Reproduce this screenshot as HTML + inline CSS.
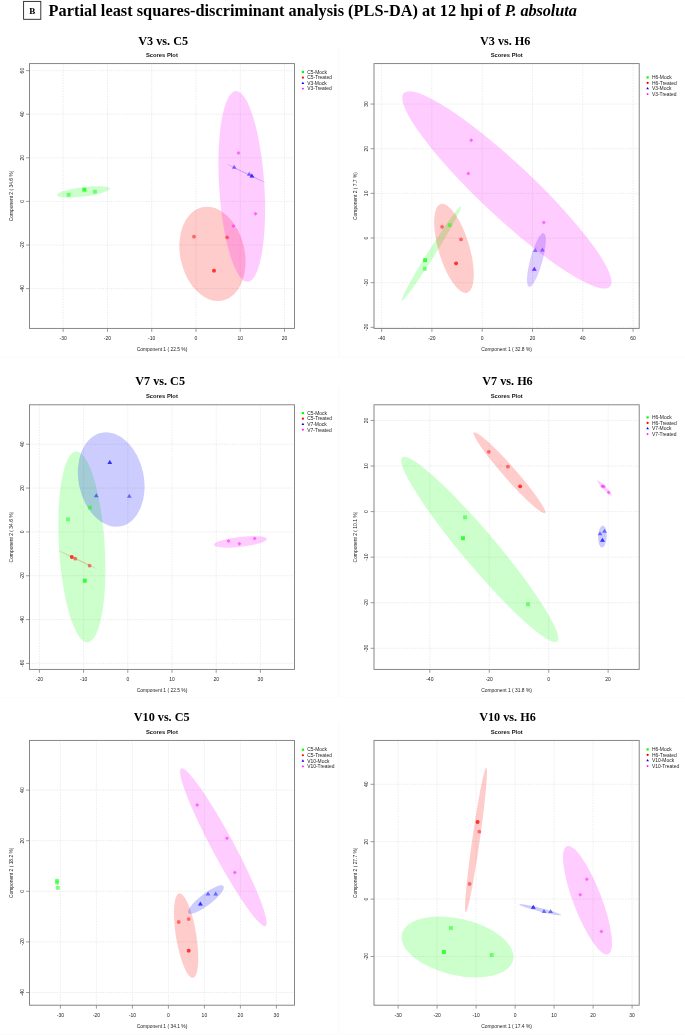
<!DOCTYPE html>
<html><head><meta charset="utf-8"><style>
html,body{margin:0;padding:0;background:#fff;}
body{width:685px;height:1035px;overflow:hidden;font-family:"Liberation Sans", sans-serif;}
svg{display:block;will-change:transform;}
</style></head><body>
<svg width="685" height="1035" viewBox="0 0 685 1035">
<rect width="685" height="1035" fill="#fff"/>
<g fill="#fcfcfc"><rect x="338" y="46" width="2" height="311"/><rect x="338" y="387" width="2" height="311"/><rect x="338" y="723" width="2" height="312"/><rect x="0" y="356.2" width="685" height="1.3"/><rect x="0" y="696.9" width="685" height="1.3"/><rect x="0" y="1033.8" width="685" height="1.2"/></g>
<rect x="23.6" y="1.4" width="17.2" height="17.9" fill="none" stroke="#222" stroke-width="0.9"/>
<text x="32.2" y="13.5" text-anchor="middle" font-family="'Liberation Serif', serif" font-weight="bold" font-size="9" fill="#000">B</text>
<text x="48.6" y="16.0" font-family="'Liberation Serif', serif" font-weight="bold" font-size="16.3" fill="#000"><tspan id="t1" letter-spacing="0.03">Partial least squares-discriminant analysis (PLS-DA) at 12 hpi of </tspan><tspan id="t2" font-style="italic" letter-spacing="-0.1">P. absoluta</tspan></text>
<text x="163.20" y="44.80" text-anchor="middle" font-family="'Liberation Serif', serif" font-weight="bold" font-size="12.2" fill="#000">V3 vs. C5</text>
<text x="161.90" y="57.10" text-anchor="middle" font-family="'Liberation Sans', sans-serif" font-weight="bold" font-size="5.8" fill="#111">Scores Plot</text>
<line x1="63.16" y1="63.60" x2="63.16" y2="328.40" stroke="#ebebeb" stroke-width="0.9" stroke-dasharray="1.6 1.1"/>
<line x1="63.16" y1="328.40" x2="63.16" y2="331.80" stroke="#555" stroke-width="0.6"/>
<text x="63.16" y="339.80" text-anchor="middle" font-family="'Liberation Sans', sans-serif" font-size="5" fill="#222">-30</text>
<line x1="107.44" y1="63.60" x2="107.44" y2="328.40" stroke="#ebebeb" stroke-width="0.9" stroke-dasharray="1.6 1.1"/>
<line x1="107.44" y1="328.40" x2="107.44" y2="331.80" stroke="#555" stroke-width="0.6"/>
<text x="107.44" y="339.80" text-anchor="middle" font-family="'Liberation Sans', sans-serif" font-size="5" fill="#222">-20</text>
<line x1="151.72" y1="63.60" x2="151.72" y2="328.40" stroke="#ebebeb" stroke-width="0.9" stroke-dasharray="1.6 1.1"/>
<line x1="151.72" y1="328.40" x2="151.72" y2="331.80" stroke="#555" stroke-width="0.6"/>
<text x="151.72" y="339.80" text-anchor="middle" font-family="'Liberation Sans', sans-serif" font-size="5" fill="#222">-10</text>
<line x1="196.00" y1="63.60" x2="196.00" y2="328.40" stroke="#ebebeb" stroke-width="0.9" stroke-dasharray="1.6 1.1"/>
<line x1="196.00" y1="328.40" x2="196.00" y2="331.80" stroke="#555" stroke-width="0.6"/>
<text x="196.00" y="339.80" text-anchor="middle" font-family="'Liberation Sans', sans-serif" font-size="5" fill="#222">0</text>
<line x1="240.28" y1="63.60" x2="240.28" y2="328.40" stroke="#ebebeb" stroke-width="0.9" stroke-dasharray="1.6 1.1"/>
<line x1="240.28" y1="328.40" x2="240.28" y2="331.80" stroke="#555" stroke-width="0.6"/>
<text x="240.28" y="339.80" text-anchor="middle" font-family="'Liberation Sans', sans-serif" font-size="5" fill="#222">10</text>
<line x1="284.56" y1="63.60" x2="284.56" y2="328.40" stroke="#ebebeb" stroke-width="0.9" stroke-dasharray="1.6 1.1"/>
<line x1="284.56" y1="328.40" x2="284.56" y2="331.80" stroke="#555" stroke-width="0.6"/>
<text x="284.56" y="339.80" text-anchor="middle" font-family="'Liberation Sans', sans-serif" font-size="5" fill="#222">20</text>
<line x1="29.50" y1="70.60" x2="294.50" y2="70.60" stroke="#ebebeb" stroke-width="0.9" stroke-dasharray="1.6 1.1"/>
<line x1="26.10" y1="70.60" x2="29.50" y2="70.60" stroke="#555" stroke-width="0.6"/>
<text x="0" y="0" transform="translate(23.50 70.60) rotate(-90)" text-anchor="middle" font-family="'Liberation Sans', sans-serif" font-size="5" fill="#222">60</text>
<line x1="29.50" y1="114.20" x2="294.50" y2="114.20" stroke="#ebebeb" stroke-width="0.9" stroke-dasharray="1.6 1.1"/>
<line x1="26.10" y1="114.20" x2="29.50" y2="114.20" stroke="#555" stroke-width="0.6"/>
<text x="0" y="0" transform="translate(23.50 114.20) rotate(-90)" text-anchor="middle" font-family="'Liberation Sans', sans-serif" font-size="5" fill="#222">40</text>
<line x1="29.50" y1="157.80" x2="294.50" y2="157.80" stroke="#ebebeb" stroke-width="0.9" stroke-dasharray="1.6 1.1"/>
<line x1="26.10" y1="157.80" x2="29.50" y2="157.80" stroke="#555" stroke-width="0.6"/>
<text x="0" y="0" transform="translate(23.50 157.80) rotate(-90)" text-anchor="middle" font-family="'Liberation Sans', sans-serif" font-size="5" fill="#222">20</text>
<line x1="29.50" y1="201.40" x2="294.50" y2="201.40" stroke="#ebebeb" stroke-width="0.9" stroke-dasharray="1.6 1.1"/>
<line x1="26.10" y1="201.40" x2="29.50" y2="201.40" stroke="#555" stroke-width="0.6"/>
<text x="0" y="0" transform="translate(23.50 201.40) rotate(-90)" text-anchor="middle" font-family="'Liberation Sans', sans-serif" font-size="5" fill="#222">0</text>
<line x1="29.50" y1="245.00" x2="294.50" y2="245.00" stroke="#ebebeb" stroke-width="0.9" stroke-dasharray="1.6 1.1"/>
<line x1="26.10" y1="245.00" x2="29.50" y2="245.00" stroke="#555" stroke-width="0.6"/>
<text x="0" y="0" transform="translate(23.50 245.00) rotate(-90)" text-anchor="middle" font-family="'Liberation Sans', sans-serif" font-size="5" fill="#222">-20</text>
<line x1="29.50" y1="288.60" x2="294.50" y2="288.60" stroke="#ebebeb" stroke-width="0.9" stroke-dasharray="1.6 1.1"/>
<line x1="26.10" y1="288.60" x2="29.50" y2="288.60" stroke="#555" stroke-width="0.6"/>
<text x="0" y="0" transform="translate(23.50 288.60) rotate(-90)" text-anchor="middle" font-family="'Liberation Sans', sans-serif" font-size="5" fill="#222">-40</text>
<clipPath id="clip0"><rect x="29.5" y="63.6" width="265.0" height="264.79999999999995"/></clipPath>
<g clip-path="url(#clip0)">
<ellipse cx="0" cy="0" rx="26.70" ry="4.68" fill="#00ff00" fill-opacity="0.2" transform="translate(83.30 191.90) rotate(172.89)"/>
<ellipse cx="0" cy="0" rx="47.81" ry="32.27" fill="#ff0000" fill-opacity="0.2" transform="translate(212.45 253.90) rotate(77.55)"/>
<ellipse cx="0" cy="0" rx="95.53" ry="22.61" fill="#ff00ff" fill-opacity="0.2" transform="translate(241.75 186.45) rotate(86.41)"/>
<ellipse cx="0" cy="0" rx="21.80" ry="0.60" fill="#0000ff" fill-opacity="0.2" transform="translate(246.35 173.45) rotate(25.68)"/>
<rect x="66.70" y="192.90" width="3.80" height="3.80" fill="#00ff00" fill-opacity="0.5"/>
<rect x="82.50" y="187.80" width="3.80" height="3.80" fill="#00ff00" fill-opacity="0.5"/>
<rect x="82.50" y="187.80" width="3.80" height="3.80" fill="#00ff00" fill-opacity="0.5"/>
<rect x="93.10" y="189.80" width="3.80" height="3.80" fill="#00ff00" fill-opacity="0.5"/>
<circle cx="194.00" cy="236.70" r="1.90" fill="#ff0000" fill-opacity="0.5"/>
<circle cx="227.10" cy="237.30" r="1.90" fill="#ff0000" fill-opacity="0.5"/>
<circle cx="214.00" cy="270.70" r="1.90" fill="#ff0000" fill-opacity="0.5"/>
<circle cx="214.00" cy="270.70" r="1.90" fill="#ff0000" fill-opacity="0.5"/>
<polygon points="234.20,164.70 236.57,168.70 231.82,168.70" fill="#0000ff" fill-opacity="0.5"/>
<polygon points="249.20,171.80 251.57,175.80 246.82,175.80" fill="#0000ff" fill-opacity="0.5"/>
<polygon points="251.90,173.40 254.28,177.40 249.53,177.40" fill="#0000ff" fill-opacity="0.5"/>
<polygon points="251.90,173.40 254.28,177.40 249.53,177.40" fill="#0000ff" fill-opacity="0.5"/>
<polygon points="238.50,151.00 240.50,153.00 238.50,155.00 236.50,153.00" fill="#ff00ff" fill-opacity="0.5"/>
<polygon points="255.50,211.70 257.50,213.70 255.50,215.70 253.50,213.70" fill="#ff00ff" fill-opacity="0.5"/>
<polygon points="233.40,224.00 235.40,226.00 233.40,228.00 231.40,226.00" fill="#ff00ff" fill-opacity="0.5"/>
</g>
<rect x="29.50" y="63.60" width="265.00" height="264.80" fill="none" stroke="#7a7a7a" stroke-width="0.9"/>
<text x="162.00" y="351.10" text-anchor="middle" font-family="'Liberation Sans', sans-serif" font-size="4.9" fill="#222">Component 1 ( 22.5 %)</text>
<text x="0" y="0" transform="translate(12.70 196.00) rotate(-90)" text-anchor="middle" font-family="'Liberation Sans', sans-serif" font-size="4.9" fill="#222">Component 2 ( 34.6 %)</text>
<rect x="301.80" y="70.90" width="2.20" height="2.20" fill="#00ff00"/>
<text x="307.20" y="73.75" font-family="'Liberation Sans', sans-serif" font-size="4.95" fill="#222">C5-Mock</text>
<circle cx="302.90" cy="77.55" r="1.10" fill="#ff0000"/>
<text x="307.20" y="79.30" font-family="'Liberation Sans', sans-serif" font-size="4.95" fill="#222">C5-Treated</text>
<polygon points="302.90,81.65 304.28,83.97 301.52,83.97" fill="#0000ff"/>
<text x="307.20" y="84.85" font-family="'Liberation Sans', sans-serif" font-size="4.95" fill="#222">V3-Mock</text>
<polygon points="302.90,87.49 304.06,88.65 302.90,89.81 301.74,88.65" fill="#ff00ff"/>
<text x="307.20" y="90.40" font-family="'Liberation Sans', sans-serif" font-size="4.95" fill="#222">V3-Treated</text>
<text x="505.20" y="44.60" text-anchor="middle" font-family="'Liberation Serif', serif" font-weight="bold" font-size="12.2" fill="#000">V3 vs. H6</text>
<text x="506.70" y="56.90" text-anchor="middle" font-family="'Liberation Sans', sans-serif" font-weight="bold" font-size="5.8" fill="#111">Scores Plot</text>
<line x1="381.60" y1="63.60" x2="381.60" y2="328.40" stroke="#ebebeb" stroke-width="0.9" stroke-dasharray="1.6 1.1"/>
<line x1="381.60" y1="328.40" x2="381.60" y2="331.80" stroke="#555" stroke-width="0.6"/>
<text x="381.60" y="339.80" text-anchor="middle" font-family="'Liberation Sans', sans-serif" font-size="5" fill="#222">-40</text>
<line x1="431.90" y1="63.60" x2="431.90" y2="328.40" stroke="#ebebeb" stroke-width="0.9" stroke-dasharray="1.6 1.1"/>
<line x1="431.90" y1="328.40" x2="431.90" y2="331.80" stroke="#555" stroke-width="0.6"/>
<text x="431.90" y="339.80" text-anchor="middle" font-family="'Liberation Sans', sans-serif" font-size="5" fill="#222">-20</text>
<line x1="482.20" y1="63.60" x2="482.20" y2="328.40" stroke="#ebebeb" stroke-width="0.9" stroke-dasharray="1.6 1.1"/>
<line x1="482.20" y1="328.40" x2="482.20" y2="331.80" stroke="#555" stroke-width="0.6"/>
<text x="482.20" y="339.80" text-anchor="middle" font-family="'Liberation Sans', sans-serif" font-size="5" fill="#222">0</text>
<line x1="532.50" y1="63.60" x2="532.50" y2="328.40" stroke="#ebebeb" stroke-width="0.9" stroke-dasharray="1.6 1.1"/>
<line x1="532.50" y1="328.40" x2="532.50" y2="331.80" stroke="#555" stroke-width="0.6"/>
<text x="532.50" y="339.80" text-anchor="middle" font-family="'Liberation Sans', sans-serif" font-size="5" fill="#222">20</text>
<line x1="582.80" y1="63.60" x2="582.80" y2="328.40" stroke="#ebebeb" stroke-width="0.9" stroke-dasharray="1.6 1.1"/>
<line x1="582.80" y1="328.40" x2="582.80" y2="331.80" stroke="#555" stroke-width="0.6"/>
<text x="582.80" y="339.80" text-anchor="middle" font-family="'Liberation Sans', sans-serif" font-size="5" fill="#222">40</text>
<line x1="633.10" y1="63.60" x2="633.10" y2="328.40" stroke="#ebebeb" stroke-width="0.9" stroke-dasharray="1.6 1.1"/>
<line x1="633.10" y1="328.40" x2="633.10" y2="331.80" stroke="#555" stroke-width="0.6"/>
<text x="633.10" y="339.80" text-anchor="middle" font-family="'Liberation Sans', sans-serif" font-size="5" fill="#222">60</text>
<line x1="374.00" y1="104.05" x2="639.20" y2="104.05" stroke="#ebebeb" stroke-width="0.9" stroke-dasharray="1.6 1.1"/>
<line x1="370.60" y1="104.05" x2="374.00" y2="104.05" stroke="#555" stroke-width="0.6"/>
<text x="0" y="0" transform="translate(368.00 104.05) rotate(-90)" text-anchor="middle" font-family="'Liberation Sans', sans-serif" font-size="5" fill="#222">30</text>
<line x1="374.00" y1="148.70" x2="639.20" y2="148.70" stroke="#ebebeb" stroke-width="0.9" stroke-dasharray="1.6 1.1"/>
<line x1="370.60" y1="148.70" x2="374.00" y2="148.70" stroke="#555" stroke-width="0.6"/>
<text x="0" y="0" transform="translate(368.00 148.70) rotate(-90)" text-anchor="middle" font-family="'Liberation Sans', sans-serif" font-size="5" fill="#222">20</text>
<line x1="374.00" y1="193.35" x2="639.20" y2="193.35" stroke="#ebebeb" stroke-width="0.9" stroke-dasharray="1.6 1.1"/>
<line x1="370.60" y1="193.35" x2="374.00" y2="193.35" stroke="#555" stroke-width="0.6"/>
<text x="0" y="0" transform="translate(368.00 193.35) rotate(-90)" text-anchor="middle" font-family="'Liberation Sans', sans-serif" font-size="5" fill="#222">10</text>
<line x1="374.00" y1="238.00" x2="639.20" y2="238.00" stroke="#ebebeb" stroke-width="0.9" stroke-dasharray="1.6 1.1"/>
<line x1="370.60" y1="238.00" x2="374.00" y2="238.00" stroke="#555" stroke-width="0.6"/>
<text x="0" y="0" transform="translate(368.00 238.00) rotate(-90)" text-anchor="middle" font-family="'Liberation Sans', sans-serif" font-size="5" fill="#222">0</text>
<line x1="374.00" y1="282.65" x2="639.20" y2="282.65" stroke="#ebebeb" stroke-width="0.9" stroke-dasharray="1.6 1.1"/>
<line x1="370.60" y1="282.65" x2="374.00" y2="282.65" stroke="#555" stroke-width="0.6"/>
<text x="0" y="0" transform="translate(368.00 282.65) rotate(-90)" text-anchor="middle" font-family="'Liberation Sans', sans-serif" font-size="5" fill="#222">-10</text>
<line x1="374.00" y1="327.30" x2="639.20" y2="327.30" stroke="#ebebeb" stroke-width="0.9" stroke-dasharray="1.6 1.1"/>
<line x1="370.60" y1="327.30" x2="374.00" y2="327.30" stroke="#555" stroke-width="0.6"/>
<text x="0" y="0" transform="translate(368.00 327.30) rotate(-90)" text-anchor="middle" font-family="'Liberation Sans', sans-serif" font-size="5" fill="#222">-20</text>
<clipPath id="clip1"><rect x="374.0" y="63.6" width="265.20000000000005" height="264.79999999999995"/></clipPath>
<g clip-path="url(#clip1)">
<ellipse cx="0" cy="0" rx="141.40" ry="26.45" fill="#ff00ff" fill-opacity="0.2" transform="translate(506.85 189.90) rotate(43.20)"/>
<ellipse cx="0" cy="0" rx="55.67" ry="3.60" fill="#00ff00" fill-opacity="0.2" transform="translate(431.40 253.55) rotate(-57.88)"/>
<ellipse cx="0" cy="0" rx="46.26" ry="15.44" fill="#ff0000" fill-opacity="0.2" transform="translate(453.95 248.35) rotate(73.38)"/>
<ellipse cx="0" cy="0" rx="27.83" ry="6.12" fill="#5000ff" fill-opacity="0.2" transform="translate(536.40 260.00) rotate(105.24)"/>
<rect x="423.20" y="258.30" width="3.80" height="3.80" fill="#00ff00" fill-opacity="0.5"/>
<rect x="423.20" y="258.30" width="3.80" height="3.80" fill="#00ff00" fill-opacity="0.5"/>
<rect x="422.90" y="266.90" width="3.80" height="3.80" fill="#00ff00" fill-opacity="0.5"/>
<rect x="447.80" y="223.20" width="3.80" height="3.80" fill="#00ff00" fill-opacity="0.5"/>
<circle cx="442.10" cy="226.80" r="1.90" fill="#ff0000" fill-opacity="0.5"/>
<circle cx="461.00" cy="239.40" r="1.90" fill="#ff0000" fill-opacity="0.5"/>
<circle cx="456.10" cy="263.30" r="1.90" fill="#ff0000" fill-opacity="0.5"/>
<circle cx="456.10" cy="263.30" r="1.90" fill="#ff0000" fill-opacity="0.5"/>
<polygon points="535.30,247.90 537.67,251.90 532.92,251.90" fill="#5000ff" fill-opacity="0.5"/>
<polygon points="542.40,247.50 544.77,251.50 540.02,251.50" fill="#5000ff" fill-opacity="0.5"/>
<polygon points="534.30,266.80 536.67,270.80 531.92,270.80" fill="#5000ff" fill-opacity="0.5"/>
<polygon points="534.30,266.80 536.67,270.80 531.92,270.80" fill="#5000ff" fill-opacity="0.5"/>
<polygon points="471.20,138.20 473.20,140.20 471.20,142.20 469.20,140.20" fill="#ff00ff" fill-opacity="0.5"/>
<polygon points="468.30,171.40 470.30,173.40 468.30,175.40 466.30,173.40" fill="#ff00ff" fill-opacity="0.5"/>
<polygon points="543.80,220.60 545.80,222.60 543.80,224.60 541.80,222.60" fill="#ff00ff" fill-opacity="0.5"/>
</g>
<rect x="374.00" y="63.60" width="265.20" height="264.80" fill="none" stroke="#7a7a7a" stroke-width="0.9"/>
<text x="506.60" y="351.10" text-anchor="middle" font-family="'Liberation Sans', sans-serif" font-size="4.9" fill="#222">Component 1 ( 32.8 %)</text>
<text x="0" y="0" transform="translate(357.20 196.00) rotate(-90)" text-anchor="middle" font-family="'Liberation Sans', sans-serif" font-size="4.9" fill="#222">Component 2 ( 7.7 %)</text>
<rect x="646.50" y="76.30" width="2.20" height="2.20" fill="#00ff00"/>
<text x="651.90" y="79.15" font-family="'Liberation Sans', sans-serif" font-size="4.95" fill="#222">H6-Mock</text>
<circle cx="647.60" cy="82.95" r="1.10" fill="#ff0000"/>
<text x="651.90" y="84.70" font-family="'Liberation Sans', sans-serif" font-size="4.95" fill="#222">H6-Treated</text>
<polygon points="647.60,87.05 648.98,89.37 646.22,89.37" fill="#0000ff"/>
<text x="651.90" y="90.25" font-family="'Liberation Sans', sans-serif" font-size="4.95" fill="#222">V3-Mock</text>
<polygon points="647.60,92.89 648.76,94.05 647.60,95.21 646.44,94.05" fill="#ff00ff"/>
<text x="651.90" y="95.80" font-family="'Liberation Sans', sans-serif" font-size="4.95" fill="#222">V3-Treated</text>
<text x="160.10" y="384.60" text-anchor="middle" font-family="'Liberation Serif', serif" font-weight="bold" font-size="12.2" fill="#000">V7 vs. C5</text>
<text x="161.90" y="398.20" text-anchor="middle" font-family="'Liberation Sans', sans-serif" font-weight="bold" font-size="5.8" fill="#111">Scores Plot</text>
<line x1="39.40" y1="404.80" x2="39.40" y2="669.40" stroke="#ebebeb" stroke-width="0.9" stroke-dasharray="1.6 1.1"/>
<line x1="39.40" y1="669.40" x2="39.40" y2="672.80" stroke="#555" stroke-width="0.6"/>
<text x="39.40" y="680.80" text-anchor="middle" font-family="'Liberation Sans', sans-serif" font-size="5" fill="#222">-20</text>
<line x1="83.60" y1="404.80" x2="83.60" y2="669.40" stroke="#ebebeb" stroke-width="0.9" stroke-dasharray="1.6 1.1"/>
<line x1="83.60" y1="669.40" x2="83.60" y2="672.80" stroke="#555" stroke-width="0.6"/>
<text x="83.60" y="680.80" text-anchor="middle" font-family="'Liberation Sans', sans-serif" font-size="5" fill="#222">-10</text>
<line x1="127.80" y1="404.80" x2="127.80" y2="669.40" stroke="#ebebeb" stroke-width="0.9" stroke-dasharray="1.6 1.1"/>
<line x1="127.80" y1="669.40" x2="127.80" y2="672.80" stroke="#555" stroke-width="0.6"/>
<text x="127.80" y="680.80" text-anchor="middle" font-family="'Liberation Sans', sans-serif" font-size="5" fill="#222">0</text>
<line x1="172.00" y1="404.80" x2="172.00" y2="669.40" stroke="#ebebeb" stroke-width="0.9" stroke-dasharray="1.6 1.1"/>
<line x1="172.00" y1="669.40" x2="172.00" y2="672.80" stroke="#555" stroke-width="0.6"/>
<text x="172.00" y="680.80" text-anchor="middle" font-family="'Liberation Sans', sans-serif" font-size="5" fill="#222">10</text>
<line x1="216.20" y1="404.80" x2="216.20" y2="669.40" stroke="#ebebeb" stroke-width="0.9" stroke-dasharray="1.6 1.1"/>
<line x1="216.20" y1="669.40" x2="216.20" y2="672.80" stroke="#555" stroke-width="0.6"/>
<text x="216.20" y="680.80" text-anchor="middle" font-family="'Liberation Sans', sans-serif" font-size="5" fill="#222">20</text>
<line x1="260.40" y1="404.80" x2="260.40" y2="669.40" stroke="#ebebeb" stroke-width="0.9" stroke-dasharray="1.6 1.1"/>
<line x1="260.40" y1="669.40" x2="260.40" y2="672.80" stroke="#555" stroke-width="0.6"/>
<text x="260.40" y="680.80" text-anchor="middle" font-family="'Liberation Sans', sans-serif" font-size="5" fill="#222">30</text>
<line x1="29.50" y1="444.22" x2="294.50" y2="444.22" stroke="#ebebeb" stroke-width="0.9" stroke-dasharray="1.6 1.1"/>
<line x1="26.10" y1="444.22" x2="29.50" y2="444.22" stroke="#555" stroke-width="0.6"/>
<text x="0" y="0" transform="translate(23.50 444.22) rotate(-90)" text-anchor="middle" font-family="'Liberation Sans', sans-serif" font-size="5" fill="#222">40</text>
<line x1="29.50" y1="488.06" x2="294.50" y2="488.06" stroke="#ebebeb" stroke-width="0.9" stroke-dasharray="1.6 1.1"/>
<line x1="26.10" y1="488.06" x2="29.50" y2="488.06" stroke="#555" stroke-width="0.6"/>
<text x="0" y="0" transform="translate(23.50 488.06) rotate(-90)" text-anchor="middle" font-family="'Liberation Sans', sans-serif" font-size="5" fill="#222">20</text>
<line x1="29.50" y1="531.90" x2="294.50" y2="531.90" stroke="#ebebeb" stroke-width="0.9" stroke-dasharray="1.6 1.1"/>
<line x1="26.10" y1="531.90" x2="29.50" y2="531.90" stroke="#555" stroke-width="0.6"/>
<text x="0" y="0" transform="translate(23.50 531.90) rotate(-90)" text-anchor="middle" font-family="'Liberation Sans', sans-serif" font-size="5" fill="#222">0</text>
<line x1="29.50" y1="575.74" x2="294.50" y2="575.74" stroke="#ebebeb" stroke-width="0.9" stroke-dasharray="1.6 1.1"/>
<line x1="26.10" y1="575.74" x2="29.50" y2="575.74" stroke="#555" stroke-width="0.6"/>
<text x="0" y="0" transform="translate(23.50 575.74) rotate(-90)" text-anchor="middle" font-family="'Liberation Sans', sans-serif" font-size="5" fill="#222">-20</text>
<line x1="29.50" y1="619.58" x2="294.50" y2="619.58" stroke="#ebebeb" stroke-width="0.9" stroke-dasharray="1.6 1.1"/>
<line x1="26.10" y1="619.58" x2="29.50" y2="619.58" stroke="#555" stroke-width="0.6"/>
<text x="0" y="0" transform="translate(23.50 619.58) rotate(-90)" text-anchor="middle" font-family="'Liberation Sans', sans-serif" font-size="5" fill="#222">-40</text>
<line x1="29.50" y1="663.42" x2="294.50" y2="663.42" stroke="#ebebeb" stroke-width="0.9" stroke-dasharray="1.6 1.1"/>
<line x1="26.10" y1="663.42" x2="29.50" y2="663.42" stroke="#555" stroke-width="0.6"/>
<text x="0" y="0" transform="translate(23.50 663.42) rotate(-90)" text-anchor="middle" font-family="'Liberation Sans', sans-serif" font-size="5" fill="#222">-60</text>
<clipPath id="clip2"><rect x="29.5" y="404.8" width="265.0" height="264.59999999999997"/></clipPath>
<g clip-path="url(#clip2)">
<ellipse cx="0" cy="0" rx="95.61" ry="22.87" fill="#00ff00" fill-opacity="0.2" transform="translate(81.85 546.95) rotate(86.53)"/>
<ellipse cx="0" cy="0" rx="47.77" ry="32.65" fill="#0000ff" fill-opacity="0.2" transform="translate(111.20 479.45) rotate(78.33)"/>
<ellipse cx="0" cy="0" rx="21.31" ry="0.60" fill="#ff0000" fill-opacity="0.2" transform="translate(77.50 559.65) rotate(25.72)"/>
<ellipse cx="0" cy="0" rx="26.66" ry="4.93" fill="#ff00ff" fill-opacity="0.2" transform="translate(240.50 541.95) rotate(173.53)"/>
<rect x="88.10" y="505.70" width="3.80" height="3.80" fill="#00ff00" fill-opacity="0.5"/>
<rect x="66.10" y="517.40" width="3.80" height="3.80" fill="#00ff00" fill-opacity="0.5"/>
<rect x="82.90" y="578.80" width="3.80" height="3.80" fill="#00ff00" fill-opacity="0.5"/>
<rect x="82.90" y="578.80" width="3.80" height="3.80" fill="#00ff00" fill-opacity="0.5"/>
<circle cx="71.70" cy="557.00" r="1.90" fill="#ff0000" fill-opacity="0.5"/>
<circle cx="71.90" cy="557.00" r="1.90" fill="#ff0000" fill-opacity="0.5"/>
<circle cx="75.20" cy="558.70" r="1.90" fill="#ff0000" fill-opacity="0.5"/>
<circle cx="89.60" cy="565.70" r="1.90" fill="#ff0000" fill-opacity="0.5"/>
<polygon points="109.80,459.90 112.17,463.90 107.42,463.90" fill="#0000ff" fill-opacity="0.5"/>
<polygon points="109.80,459.90 112.17,463.90 107.42,463.90" fill="#0000ff" fill-opacity="0.5"/>
<polygon points="96.30,493.20 98.67,497.20 93.92,497.20" fill="#0000ff" fill-opacity="0.5"/>
<polygon points="129.30,493.80 131.68,497.80 126.93,497.80" fill="#0000ff" fill-opacity="0.5"/>
<polygon points="228.50,539.10 230.50,541.10 228.50,543.10 226.50,541.10" fill="#ff00ff" fill-opacity="0.5"/>
<polygon points="239.40,541.70 241.40,543.70 239.40,545.70 237.40,543.70" fill="#ff00ff" fill-opacity="0.5"/>
<polygon points="254.70,536.60 256.70,538.60 254.70,540.60 252.70,538.60" fill="#ff00ff" fill-opacity="0.5"/>
</g>
<rect x="29.50" y="404.80" width="265.00" height="264.60" fill="none" stroke="#7a7a7a" stroke-width="0.9"/>
<text x="162.00" y="692.10" text-anchor="middle" font-family="'Liberation Sans', sans-serif" font-size="4.9" fill="#222">Component 1 ( 22.5 %)</text>
<text x="0" y="0" transform="translate(12.70 537.10) rotate(-90)" text-anchor="middle" font-family="'Liberation Sans', sans-serif" font-size="4.9" fill="#222">Component 2 ( 34.6 %)</text>
<rect x="301.80" y="412.00" width="2.20" height="2.20" fill="#00ff00"/>
<text x="307.20" y="414.85" font-family="'Liberation Sans', sans-serif" font-size="4.95" fill="#222">C5-Mock</text>
<circle cx="302.90" cy="418.65" r="1.10" fill="#ff0000"/>
<text x="307.20" y="420.40" font-family="'Liberation Sans', sans-serif" font-size="4.95" fill="#222">C5-Treated</text>
<polygon points="302.90,422.75 304.28,425.07 301.52,425.07" fill="#0000ff"/>
<text x="307.20" y="425.95" font-family="'Liberation Sans', sans-serif" font-size="4.95" fill="#222">V7-Mock</text>
<polygon points="302.90,428.59 304.06,429.75 302.90,430.91 301.74,429.75" fill="#ff00ff"/>
<text x="307.20" y="431.50" font-family="'Liberation Sans', sans-serif" font-size="4.95" fill="#222">V7-Treated</text>
<text x="507.50" y="384.80" text-anchor="middle" font-family="'Liberation Serif', serif" font-weight="bold" font-size="12.2" fill="#000">V7 vs. H6</text>
<text x="506.70" y="398.20" text-anchor="middle" font-family="'Liberation Sans', sans-serif" font-weight="bold" font-size="5.8" fill="#111">Scores Plot</text>
<line x1="429.82" y1="404.80" x2="429.82" y2="669.40" stroke="#ebebeb" stroke-width="0.9" stroke-dasharray="1.6 1.1"/>
<line x1="429.82" y1="669.40" x2="429.82" y2="672.80" stroke="#555" stroke-width="0.6"/>
<text x="429.82" y="680.80" text-anchor="middle" font-family="'Liberation Sans', sans-serif" font-size="5" fill="#222">-40</text>
<line x1="489.26" y1="404.80" x2="489.26" y2="669.40" stroke="#ebebeb" stroke-width="0.9" stroke-dasharray="1.6 1.1"/>
<line x1="489.26" y1="669.40" x2="489.26" y2="672.80" stroke="#555" stroke-width="0.6"/>
<text x="489.26" y="680.80" text-anchor="middle" font-family="'Liberation Sans', sans-serif" font-size="5" fill="#222">-20</text>
<line x1="548.70" y1="404.80" x2="548.70" y2="669.40" stroke="#ebebeb" stroke-width="0.9" stroke-dasharray="1.6 1.1"/>
<line x1="548.70" y1="669.40" x2="548.70" y2="672.80" stroke="#555" stroke-width="0.6"/>
<text x="548.70" y="680.80" text-anchor="middle" font-family="'Liberation Sans', sans-serif" font-size="5" fill="#222">0</text>
<line x1="608.14" y1="404.80" x2="608.14" y2="669.40" stroke="#ebebeb" stroke-width="0.9" stroke-dasharray="1.6 1.1"/>
<line x1="608.14" y1="669.40" x2="608.14" y2="672.80" stroke="#555" stroke-width="0.6"/>
<text x="608.14" y="680.80" text-anchor="middle" font-family="'Liberation Sans', sans-serif" font-size="5" fill="#222">20</text>
<line x1="374.00" y1="420.48" x2="639.20" y2="420.48" stroke="#ebebeb" stroke-width="0.9" stroke-dasharray="1.6 1.1"/>
<line x1="370.60" y1="420.48" x2="374.00" y2="420.48" stroke="#555" stroke-width="0.6"/>
<text x="0" y="0" transform="translate(368.00 420.48) rotate(-90)" text-anchor="middle" font-family="'Liberation Sans', sans-serif" font-size="5" fill="#222">20</text>
<line x1="374.00" y1="466.04" x2="639.20" y2="466.04" stroke="#ebebeb" stroke-width="0.9" stroke-dasharray="1.6 1.1"/>
<line x1="370.60" y1="466.04" x2="374.00" y2="466.04" stroke="#555" stroke-width="0.6"/>
<text x="0" y="0" transform="translate(368.00 466.04) rotate(-90)" text-anchor="middle" font-family="'Liberation Sans', sans-serif" font-size="5" fill="#222">10</text>
<line x1="374.00" y1="511.60" x2="639.20" y2="511.60" stroke="#ebebeb" stroke-width="0.9" stroke-dasharray="1.6 1.1"/>
<line x1="370.60" y1="511.60" x2="374.00" y2="511.60" stroke="#555" stroke-width="0.6"/>
<text x="0" y="0" transform="translate(368.00 511.60) rotate(-90)" text-anchor="middle" font-family="'Liberation Sans', sans-serif" font-size="5" fill="#222">0</text>
<line x1="374.00" y1="557.16" x2="639.20" y2="557.16" stroke="#ebebeb" stroke-width="0.9" stroke-dasharray="1.6 1.1"/>
<line x1="370.60" y1="557.16" x2="374.00" y2="557.16" stroke="#555" stroke-width="0.6"/>
<text x="0" y="0" transform="translate(368.00 557.16) rotate(-90)" text-anchor="middle" font-family="'Liberation Sans', sans-serif" font-size="5" fill="#222">-10</text>
<line x1="374.00" y1="602.72" x2="639.20" y2="602.72" stroke="#ebebeb" stroke-width="0.9" stroke-dasharray="1.6 1.1"/>
<line x1="370.60" y1="602.72" x2="374.00" y2="602.72" stroke="#555" stroke-width="0.6"/>
<text x="0" y="0" transform="translate(368.00 602.72) rotate(-90)" text-anchor="middle" font-family="'Liberation Sans', sans-serif" font-size="5" fill="#222">-20</text>
<line x1="374.00" y1="648.28" x2="639.20" y2="648.28" stroke="#ebebeb" stroke-width="0.9" stroke-dasharray="1.6 1.1"/>
<line x1="370.60" y1="648.28" x2="374.00" y2="648.28" stroke="#555" stroke-width="0.6"/>
<text x="0" y="0" transform="translate(368.00 648.28) rotate(-90)" text-anchor="middle" font-family="'Liberation Sans', sans-serif" font-size="5" fill="#222">-30</text>
<clipPath id="clip3"><rect x="374.0" y="404.8" width="265.20000000000005" height="264.59999999999997"/></clipPath>
<g clip-path="url(#clip3)">
<ellipse cx="0" cy="0" rx="120.28" ry="16.96" fill="#00ff00" fill-opacity="0.2" transform="translate(479.75 549.45) rotate(49.90)"/>
<ellipse cx="0" cy="0" rx="53.81" ry="6.20" fill="#ff0000" fill-opacity="0.2" transform="translate(509.50 472.75) rotate(48.58)"/>
<ellipse cx="0" cy="0" rx="10.47" ry="1.60" fill="#ff00ff" fill-opacity="0.2" transform="translate(604.50 487.90) rotate(46.55)"/>
<ellipse cx="0" cy="0" rx="11.11" ry="4.32" fill="#0000ff" fill-opacity="0.2" transform="translate(602.45 536.50) rotate(92.74)"/>
<rect x="463.10" y="515.40" width="3.80" height="3.80" fill="#00ff00" fill-opacity="0.5"/>
<rect x="461.10" y="536.30" width="3.80" height="3.80" fill="#00ff00" fill-opacity="0.5"/>
<rect x="461.10" y="536.30" width="3.80" height="3.80" fill="#00ff00" fill-opacity="0.5"/>
<rect x="526.10" y="602.30" width="3.80" height="3.80" fill="#00ff00" fill-opacity="0.5"/>
<circle cx="488.80" cy="451.80" r="1.90" fill="#ff0000" fill-opacity="0.5"/>
<circle cx="507.90" cy="466.70" r="1.90" fill="#ff0000" fill-opacity="0.5"/>
<circle cx="520.10" cy="486.30" r="1.90" fill="#ff0000" fill-opacity="0.5"/>
<circle cx="520.10" cy="486.30" r="1.90" fill="#ff0000" fill-opacity="0.5"/>
<polygon points="604.50,528.70 606.88,532.70 602.12,532.70" fill="#0000ff" fill-opacity="0.5"/>
<polygon points="600.00,531.20 602.38,535.20 597.62,535.20" fill="#0000ff" fill-opacity="0.5"/>
<polygon points="602.50,537.70 604.88,541.70 600.12,541.70" fill="#0000ff" fill-opacity="0.5"/>
<polygon points="602.50,537.70 604.88,541.70 600.12,541.70" fill="#0000ff" fill-opacity="0.5"/>
<polygon points="602.20,484.30 604.20,486.30 602.20,488.30 600.20,486.30" fill="#ff00ff" fill-opacity="0.5"/>
<polygon points="603.90,484.40 605.90,486.40 603.90,488.40 601.90,486.40" fill="#ff00ff" fill-opacity="0.5"/>
<polygon points="608.70,490.60 610.70,492.60 608.70,494.60 606.70,492.60" fill="#ff00ff" fill-opacity="0.5"/>
</g>
<rect x="374.00" y="404.80" width="265.20" height="264.60" fill="none" stroke="#7a7a7a" stroke-width="0.9"/>
<text x="506.60" y="692.10" text-anchor="middle" font-family="'Liberation Sans', sans-serif" font-size="4.9" fill="#222">Component 1 ( 31.8 %)</text>
<text x="0" y="0" transform="translate(357.20 537.10) rotate(-90)" text-anchor="middle" font-family="'Liberation Sans', sans-serif" font-size="4.9" fill="#222">Component 2 ( 10.1 %)</text>
<rect x="646.50" y="416.30" width="2.20" height="2.20" fill="#00ff00"/>
<text x="651.90" y="419.15" font-family="'Liberation Sans', sans-serif" font-size="4.95" fill="#222">H6-Mock</text>
<circle cx="647.60" cy="422.95" r="1.10" fill="#ff0000"/>
<text x="651.90" y="424.70" font-family="'Liberation Sans', sans-serif" font-size="4.95" fill="#222">H6-Treated</text>
<polygon points="647.60,427.05 648.98,429.37 646.22,429.37" fill="#0000ff"/>
<text x="651.90" y="430.25" font-family="'Liberation Sans', sans-serif" font-size="4.95" fill="#222">V7-Mock</text>
<polygon points="647.60,432.89 648.76,434.05 647.60,435.21 646.44,434.05" fill="#ff00ff"/>
<text x="651.90" y="435.80" font-family="'Liberation Sans', sans-serif" font-size="4.95" fill="#222">V7-Treated</text>
<text x="161.70" y="721.10" text-anchor="middle" font-family="'Liberation Serif', serif" font-weight="bold" font-size="12.2" fill="#000">V10 vs. C5</text>
<text x="161.90" y="733.70" text-anchor="middle" font-family="'Liberation Sans', sans-serif" font-weight="bold" font-size="5.8" fill="#111">Scores Plot</text>
<line x1="60.40" y1="740.40" x2="60.40" y2="1005.20" stroke="#ebebeb" stroke-width="0.9" stroke-dasharray="1.6 1.1"/>
<line x1="60.40" y1="1005.20" x2="60.40" y2="1008.60" stroke="#555" stroke-width="0.6"/>
<text x="60.40" y="1016.60" text-anchor="middle" font-family="'Liberation Sans', sans-serif" font-size="5" fill="#222">-30</text>
<line x1="96.40" y1="740.40" x2="96.40" y2="1005.20" stroke="#ebebeb" stroke-width="0.9" stroke-dasharray="1.6 1.1"/>
<line x1="96.40" y1="1005.20" x2="96.40" y2="1008.60" stroke="#555" stroke-width="0.6"/>
<text x="96.40" y="1016.60" text-anchor="middle" font-family="'Liberation Sans', sans-serif" font-size="5" fill="#222">-20</text>
<line x1="132.40" y1="740.40" x2="132.40" y2="1005.20" stroke="#ebebeb" stroke-width="0.9" stroke-dasharray="1.6 1.1"/>
<line x1="132.40" y1="1005.20" x2="132.40" y2="1008.60" stroke="#555" stroke-width="0.6"/>
<text x="132.40" y="1016.60" text-anchor="middle" font-family="'Liberation Sans', sans-serif" font-size="5" fill="#222">-10</text>
<line x1="168.40" y1="740.40" x2="168.40" y2="1005.20" stroke="#ebebeb" stroke-width="0.9" stroke-dasharray="1.6 1.1"/>
<line x1="168.40" y1="1005.20" x2="168.40" y2="1008.60" stroke="#555" stroke-width="0.6"/>
<text x="168.40" y="1016.60" text-anchor="middle" font-family="'Liberation Sans', sans-serif" font-size="5" fill="#222">0</text>
<line x1="204.40" y1="740.40" x2="204.40" y2="1005.20" stroke="#ebebeb" stroke-width="0.9" stroke-dasharray="1.6 1.1"/>
<line x1="204.40" y1="1005.20" x2="204.40" y2="1008.60" stroke="#555" stroke-width="0.6"/>
<text x="204.40" y="1016.60" text-anchor="middle" font-family="'Liberation Sans', sans-serif" font-size="5" fill="#222">10</text>
<line x1="240.40" y1="740.40" x2="240.40" y2="1005.20" stroke="#ebebeb" stroke-width="0.9" stroke-dasharray="1.6 1.1"/>
<line x1="240.40" y1="1005.20" x2="240.40" y2="1008.60" stroke="#555" stroke-width="0.6"/>
<text x="240.40" y="1016.60" text-anchor="middle" font-family="'Liberation Sans', sans-serif" font-size="5" fill="#222">20</text>
<line x1="276.40" y1="740.40" x2="276.40" y2="1005.20" stroke="#ebebeb" stroke-width="0.9" stroke-dasharray="1.6 1.1"/>
<line x1="276.40" y1="1005.20" x2="276.40" y2="1008.60" stroke="#555" stroke-width="0.6"/>
<text x="276.40" y="1016.60" text-anchor="middle" font-family="'Liberation Sans', sans-serif" font-size="5" fill="#222">30</text>
<line x1="29.50" y1="790.10" x2="294.50" y2="790.10" stroke="#ebebeb" stroke-width="0.9" stroke-dasharray="1.6 1.1"/>
<line x1="26.10" y1="790.10" x2="29.50" y2="790.10" stroke="#555" stroke-width="0.6"/>
<text x="0" y="0" transform="translate(23.50 790.10) rotate(-90)" text-anchor="middle" font-family="'Liberation Sans', sans-serif" font-size="5" fill="#222">40</text>
<line x1="29.50" y1="840.70" x2="294.50" y2="840.70" stroke="#ebebeb" stroke-width="0.9" stroke-dasharray="1.6 1.1"/>
<line x1="26.10" y1="840.70" x2="29.50" y2="840.70" stroke="#555" stroke-width="0.6"/>
<text x="0" y="0" transform="translate(23.50 840.70) rotate(-90)" text-anchor="middle" font-family="'Liberation Sans', sans-serif" font-size="5" fill="#222">20</text>
<line x1="29.50" y1="891.30" x2="294.50" y2="891.30" stroke="#ebebeb" stroke-width="0.9" stroke-dasharray="1.6 1.1"/>
<line x1="26.10" y1="891.30" x2="29.50" y2="891.30" stroke="#555" stroke-width="0.6"/>
<text x="0" y="0" transform="translate(23.50 891.30) rotate(-90)" text-anchor="middle" font-family="'Liberation Sans', sans-serif" font-size="5" fill="#222">0</text>
<line x1="29.50" y1="941.90" x2="294.50" y2="941.90" stroke="#ebebeb" stroke-width="0.9" stroke-dasharray="1.6 1.1"/>
<line x1="26.10" y1="941.90" x2="29.50" y2="941.90" stroke="#555" stroke-width="0.6"/>
<text x="0" y="0" transform="translate(23.50 941.90) rotate(-90)" text-anchor="middle" font-family="'Liberation Sans', sans-serif" font-size="5" fill="#222">-20</text>
<line x1="29.50" y1="992.50" x2="294.50" y2="992.50" stroke="#ebebeb" stroke-width="0.9" stroke-dasharray="1.6 1.1"/>
<line x1="26.10" y1="992.50" x2="29.50" y2="992.50" stroke="#555" stroke-width="0.6"/>
<text x="0" y="0" transform="translate(23.50 992.50) rotate(-90)" text-anchor="middle" font-family="'Liberation Sans', sans-serif" font-size="5" fill="#222">-40</text>
<clipPath id="clip4"><rect x="29.5" y="740.4" width="265.0" height="264.80000000000007"/></clipPath>
<g clip-path="url(#clip4)">
<ellipse cx="0" cy="0" rx="89.44" ry="10.98" fill="#ff00ff" fill-opacity="0.2" transform="translate(223.35 847.30) rotate(61.81)"/>
<ellipse cx="0" cy="0" rx="42.78" ry="10.20" fill="#ff0000" fill-opacity="0.2" transform="translate(186.10 935.55) rotate(80.72)"/>
<ellipse cx="0" cy="0" rx="22.16" ry="5.85" fill="#0000ff" fill-opacity="0.2" transform="translate(205.95 899.65) rotate(142.56)"/>
<ellipse cx="0" cy="0" rx="7.27" ry="0.50" fill="#00ff00" fill-opacity="0.2" transform="translate(57.45 882.75) rotate(85.66)"/>
<rect x="55.10" y="878.90" width="3.80" height="3.80" fill="#00ff00" fill-opacity="0.5"/>
<rect x="55.20" y="880.70" width="3.80" height="3.80" fill="#00ff00" fill-opacity="0.5"/>
<rect x="55.90" y="886.00" width="3.80" height="3.80" fill="#00ff00" fill-opacity="0.5"/>
<circle cx="178.70" cy="922.00" r="1.90" fill="#ff0000" fill-opacity="0.5"/>
<circle cx="188.70" cy="919.10" r="1.90" fill="#ff0000" fill-opacity="0.5"/>
<circle cx="188.70" cy="950.70" r="1.90" fill="#ff0000" fill-opacity="0.5"/>
<circle cx="188.70" cy="950.70" r="1.90" fill="#ff0000" fill-opacity="0.5"/>
<polygon points="208.00,891.60 210.38,895.60 205.62,895.60" fill="#0000ff" fill-opacity="0.5"/>
<polygon points="215.70,891.60 218.07,895.60 213.32,895.60" fill="#0000ff" fill-opacity="0.5"/>
<polygon points="200.40,901.40 202.78,905.40 198.03,905.40" fill="#0000ff" fill-opacity="0.5"/>
<polygon points="200.40,901.40 202.78,905.40 198.03,905.40" fill="#0000ff" fill-opacity="0.5"/>
<polygon points="197.20,803.00 199.20,805.00 197.20,807.00 195.20,805.00" fill="#ff00ff" fill-opacity="0.5"/>
<polygon points="227.00,836.30 229.00,838.30 227.00,840.30 225.00,838.30" fill="#ff00ff" fill-opacity="0.5"/>
<polygon points="234.80,870.60 236.80,872.60 234.80,874.60 232.80,872.60" fill="#ff00ff" fill-opacity="0.5"/>
</g>
<rect x="29.50" y="740.40" width="265.00" height="264.80" fill="none" stroke="#7a7a7a" stroke-width="0.9"/>
<text x="162.00" y="1027.90" text-anchor="middle" font-family="'Liberation Sans', sans-serif" font-size="4.9" fill="#222">Component 1 ( 34.1 %)</text>
<text x="0" y="0" transform="translate(12.70 872.80) rotate(-90)" text-anchor="middle" font-family="'Liberation Sans', sans-serif" font-size="4.9" fill="#222">Component 2 ( 18.2 %)</text>
<rect x="301.80" y="748.60" width="2.20" height="2.20" fill="#00ff00"/>
<text x="307.20" y="751.45" font-family="'Liberation Sans', sans-serif" font-size="4.95" fill="#222">C5-Mock</text>
<circle cx="302.90" cy="755.25" r="1.10" fill="#ff0000"/>
<text x="307.20" y="757.00" font-family="'Liberation Sans', sans-serif" font-size="4.95" fill="#222">C5-Treated</text>
<polygon points="302.90,759.35 304.28,761.67 301.52,761.67" fill="#0000ff"/>
<text x="307.20" y="762.55" font-family="'Liberation Sans', sans-serif" font-size="4.95" fill="#222">V10-Mock</text>
<polygon points="302.90,765.19 304.06,766.35 302.90,767.51 301.74,766.35" fill="#ff00ff"/>
<text x="307.20" y="768.10" font-family="'Liberation Sans', sans-serif" font-size="4.95" fill="#222">V10-Treated</text>
<text x="507.50" y="721.10" text-anchor="middle" font-family="'Liberation Serif', serif" font-weight="bold" font-size="12.2" fill="#000">V10 vs. H6</text>
<text x="506.70" y="733.70" text-anchor="middle" font-family="'Liberation Sans', sans-serif" font-weight="bold" font-size="5.8" fill="#111">Scores Plot</text>
<line x1="398.10" y1="740.40" x2="398.10" y2="1005.20" stroke="#ebebeb" stroke-width="0.9" stroke-dasharray="1.6 1.1"/>
<line x1="398.10" y1="1005.20" x2="398.10" y2="1008.60" stroke="#555" stroke-width="0.6"/>
<text x="398.10" y="1016.60" text-anchor="middle" font-family="'Liberation Sans', sans-serif" font-size="5" fill="#222">-30</text>
<line x1="437.10" y1="740.40" x2="437.10" y2="1005.20" stroke="#ebebeb" stroke-width="0.9" stroke-dasharray="1.6 1.1"/>
<line x1="437.10" y1="1005.20" x2="437.10" y2="1008.60" stroke="#555" stroke-width="0.6"/>
<text x="437.10" y="1016.60" text-anchor="middle" font-family="'Liberation Sans', sans-serif" font-size="5" fill="#222">-20</text>
<line x1="476.10" y1="740.40" x2="476.10" y2="1005.20" stroke="#ebebeb" stroke-width="0.9" stroke-dasharray="1.6 1.1"/>
<line x1="476.10" y1="1005.20" x2="476.10" y2="1008.60" stroke="#555" stroke-width="0.6"/>
<text x="476.10" y="1016.60" text-anchor="middle" font-family="'Liberation Sans', sans-serif" font-size="5" fill="#222">-10</text>
<line x1="515.10" y1="740.40" x2="515.10" y2="1005.20" stroke="#ebebeb" stroke-width="0.9" stroke-dasharray="1.6 1.1"/>
<line x1="515.10" y1="1005.20" x2="515.10" y2="1008.60" stroke="#555" stroke-width="0.6"/>
<text x="515.10" y="1016.60" text-anchor="middle" font-family="'Liberation Sans', sans-serif" font-size="5" fill="#222">0</text>
<line x1="554.10" y1="740.40" x2="554.10" y2="1005.20" stroke="#ebebeb" stroke-width="0.9" stroke-dasharray="1.6 1.1"/>
<line x1="554.10" y1="1005.20" x2="554.10" y2="1008.60" stroke="#555" stroke-width="0.6"/>
<text x="554.10" y="1016.60" text-anchor="middle" font-family="'Liberation Sans', sans-serif" font-size="5" fill="#222">10</text>
<line x1="593.10" y1="740.40" x2="593.10" y2="1005.20" stroke="#ebebeb" stroke-width="0.9" stroke-dasharray="1.6 1.1"/>
<line x1="593.10" y1="1005.20" x2="593.10" y2="1008.60" stroke="#555" stroke-width="0.6"/>
<text x="593.10" y="1016.60" text-anchor="middle" font-family="'Liberation Sans', sans-serif" font-size="5" fill="#222">20</text>
<line x1="632.10" y1="740.40" x2="632.10" y2="1005.20" stroke="#ebebeb" stroke-width="0.9" stroke-dasharray="1.6 1.1"/>
<line x1="632.10" y1="1005.20" x2="632.10" y2="1008.60" stroke="#555" stroke-width="0.6"/>
<text x="632.10" y="1016.60" text-anchor="middle" font-family="'Liberation Sans', sans-serif" font-size="5" fill="#222">30</text>
<line x1="374.00" y1="784.30" x2="639.20" y2="784.30" stroke="#ebebeb" stroke-width="0.9" stroke-dasharray="1.6 1.1"/>
<line x1="370.60" y1="784.30" x2="374.00" y2="784.30" stroke="#555" stroke-width="0.6"/>
<text x="0" y="0" transform="translate(368.00 784.30) rotate(-90)" text-anchor="middle" font-family="'Liberation Sans', sans-serif" font-size="5" fill="#222">40</text>
<line x1="374.00" y1="841.70" x2="639.20" y2="841.70" stroke="#ebebeb" stroke-width="0.9" stroke-dasharray="1.6 1.1"/>
<line x1="370.60" y1="841.70" x2="374.00" y2="841.70" stroke="#555" stroke-width="0.6"/>
<text x="0" y="0" transform="translate(368.00 841.70) rotate(-90)" text-anchor="middle" font-family="'Liberation Sans', sans-serif" font-size="5" fill="#222">20</text>
<line x1="374.00" y1="899.10" x2="639.20" y2="899.10" stroke="#ebebeb" stroke-width="0.9" stroke-dasharray="1.6 1.1"/>
<line x1="370.60" y1="899.10" x2="374.00" y2="899.10" stroke="#555" stroke-width="0.6"/>
<text x="0" y="0" transform="translate(368.00 899.10) rotate(-90)" text-anchor="middle" font-family="'Liberation Sans', sans-serif" font-size="5" fill="#222">0</text>
<line x1="374.00" y1="956.50" x2="639.20" y2="956.50" stroke="#ebebeb" stroke-width="0.9" stroke-dasharray="1.6 1.1"/>
<line x1="370.60" y1="956.50" x2="374.00" y2="956.50" stroke="#555" stroke-width="0.6"/>
<text x="0" y="0" transform="translate(368.00 956.50) rotate(-90)" text-anchor="middle" font-family="'Liberation Sans', sans-serif" font-size="5" fill="#222">-20</text>
<clipPath id="clip5"><rect x="374.0" y="740.4" width="265.20000000000005" height="264.80000000000007"/></clipPath>
<g clip-path="url(#clip5)">
<ellipse cx="0" cy="0" rx="73.03" ry="3.80" fill="#ff0000" fill-opacity="0.2" transform="translate(476.00 839.90) rotate(98.11)"/>
<ellipse cx="0" cy="0" rx="57.14" ry="28.25" fill="#00ff00" fill-opacity="0.2" transform="translate(457.50 946.95) rotate(13.23)"/>
<ellipse cx="0" cy="0" rx="21.61" ry="1.80" fill="#0000ff" fill-opacity="0.2" transform="translate(540.15 909.70) rotate(14.20)"/>
<ellipse cx="0" cy="0" rx="57.91" ry="14.16" fill="#ff00ff" fill-opacity="0.2" transform="translate(587.50 900.25) rotate(69.14)"/>
<rect x="449.00" y="926.10" width="3.80" height="3.80" fill="#00ff00" fill-opacity="0.5"/>
<rect x="442.00" y="950.10" width="3.80" height="3.80" fill="#00ff00" fill-opacity="0.5"/>
<rect x="442.00" y="950.10" width="3.80" height="3.80" fill="#00ff00" fill-opacity="0.5"/>
<rect x="489.80" y="953.10" width="3.80" height="3.80" fill="#00ff00" fill-opacity="0.5"/>
<circle cx="477.60" cy="822.00" r="1.90" fill="#ff0000" fill-opacity="0.5"/>
<circle cx="477.60" cy="822.00" r="1.90" fill="#ff0000" fill-opacity="0.5"/>
<circle cx="479.30" cy="831.70" r="1.90" fill="#ff0000" fill-opacity="0.5"/>
<circle cx="469.60" cy="883.90" r="1.90" fill="#ff0000" fill-opacity="0.5"/>
<polygon points="533.30,904.80 535.67,908.80 530.92,908.80" fill="#0000ff" fill-opacity="0.5"/>
<polygon points="533.30,904.80 535.67,908.80 530.92,908.80" fill="#0000ff" fill-opacity="0.5"/>
<polygon points="544.00,909.10 546.38,913.10 541.62,913.10" fill="#0000ff" fill-opacity="0.5"/>
<polygon points="550.60,909.10 552.98,913.10 548.23,913.10" fill="#0000ff" fill-opacity="0.5"/>
<polygon points="586.80,877.20 588.80,879.20 586.80,881.20 584.80,879.20" fill="#ff00ff" fill-opacity="0.5"/>
<polygon points="580.20,892.70 582.20,894.70 580.20,896.70 578.20,894.70" fill="#ff00ff" fill-opacity="0.5"/>
<polygon points="601.40,929.50 603.40,931.50 601.40,933.50 599.40,931.50" fill="#ff00ff" fill-opacity="0.5"/>
</g>
<rect x="374.00" y="740.40" width="265.20" height="264.80" fill="none" stroke="#7a7a7a" stroke-width="0.9"/>
<text x="506.60" y="1027.90" text-anchor="middle" font-family="'Liberation Sans', sans-serif" font-size="4.9" fill="#222">Component 1 ( 17.4 %)</text>
<text x="0" y="0" transform="translate(357.20 872.80) rotate(-90)" text-anchor="middle" font-family="'Liberation Sans', sans-serif" font-size="4.9" fill="#222">Component 2 ( 27.7 %)</text>
<rect x="646.50" y="748.30" width="2.20" height="2.20" fill="#00ff00"/>
<text x="651.90" y="751.15" font-family="'Liberation Sans', sans-serif" font-size="4.95" fill="#222">H6-Mock</text>
<circle cx="647.60" cy="754.95" r="1.10" fill="#ff0000"/>
<text x="651.90" y="756.70" font-family="'Liberation Sans', sans-serif" font-size="4.95" fill="#222">H6-Treated</text>
<polygon points="647.60,759.05 648.98,761.37 646.22,761.37" fill="#0000ff"/>
<text x="651.90" y="762.25" font-family="'Liberation Sans', sans-serif" font-size="4.95" fill="#222">V10-Mock</text>
<polygon points="647.60,764.89 648.76,766.05 647.60,767.21 646.44,766.05" fill="#ff00ff"/>
<text x="651.90" y="767.80" font-family="'Liberation Sans', sans-serif" font-size="4.95" fill="#222">V10-Treated</text>
</svg>
</body></html>
